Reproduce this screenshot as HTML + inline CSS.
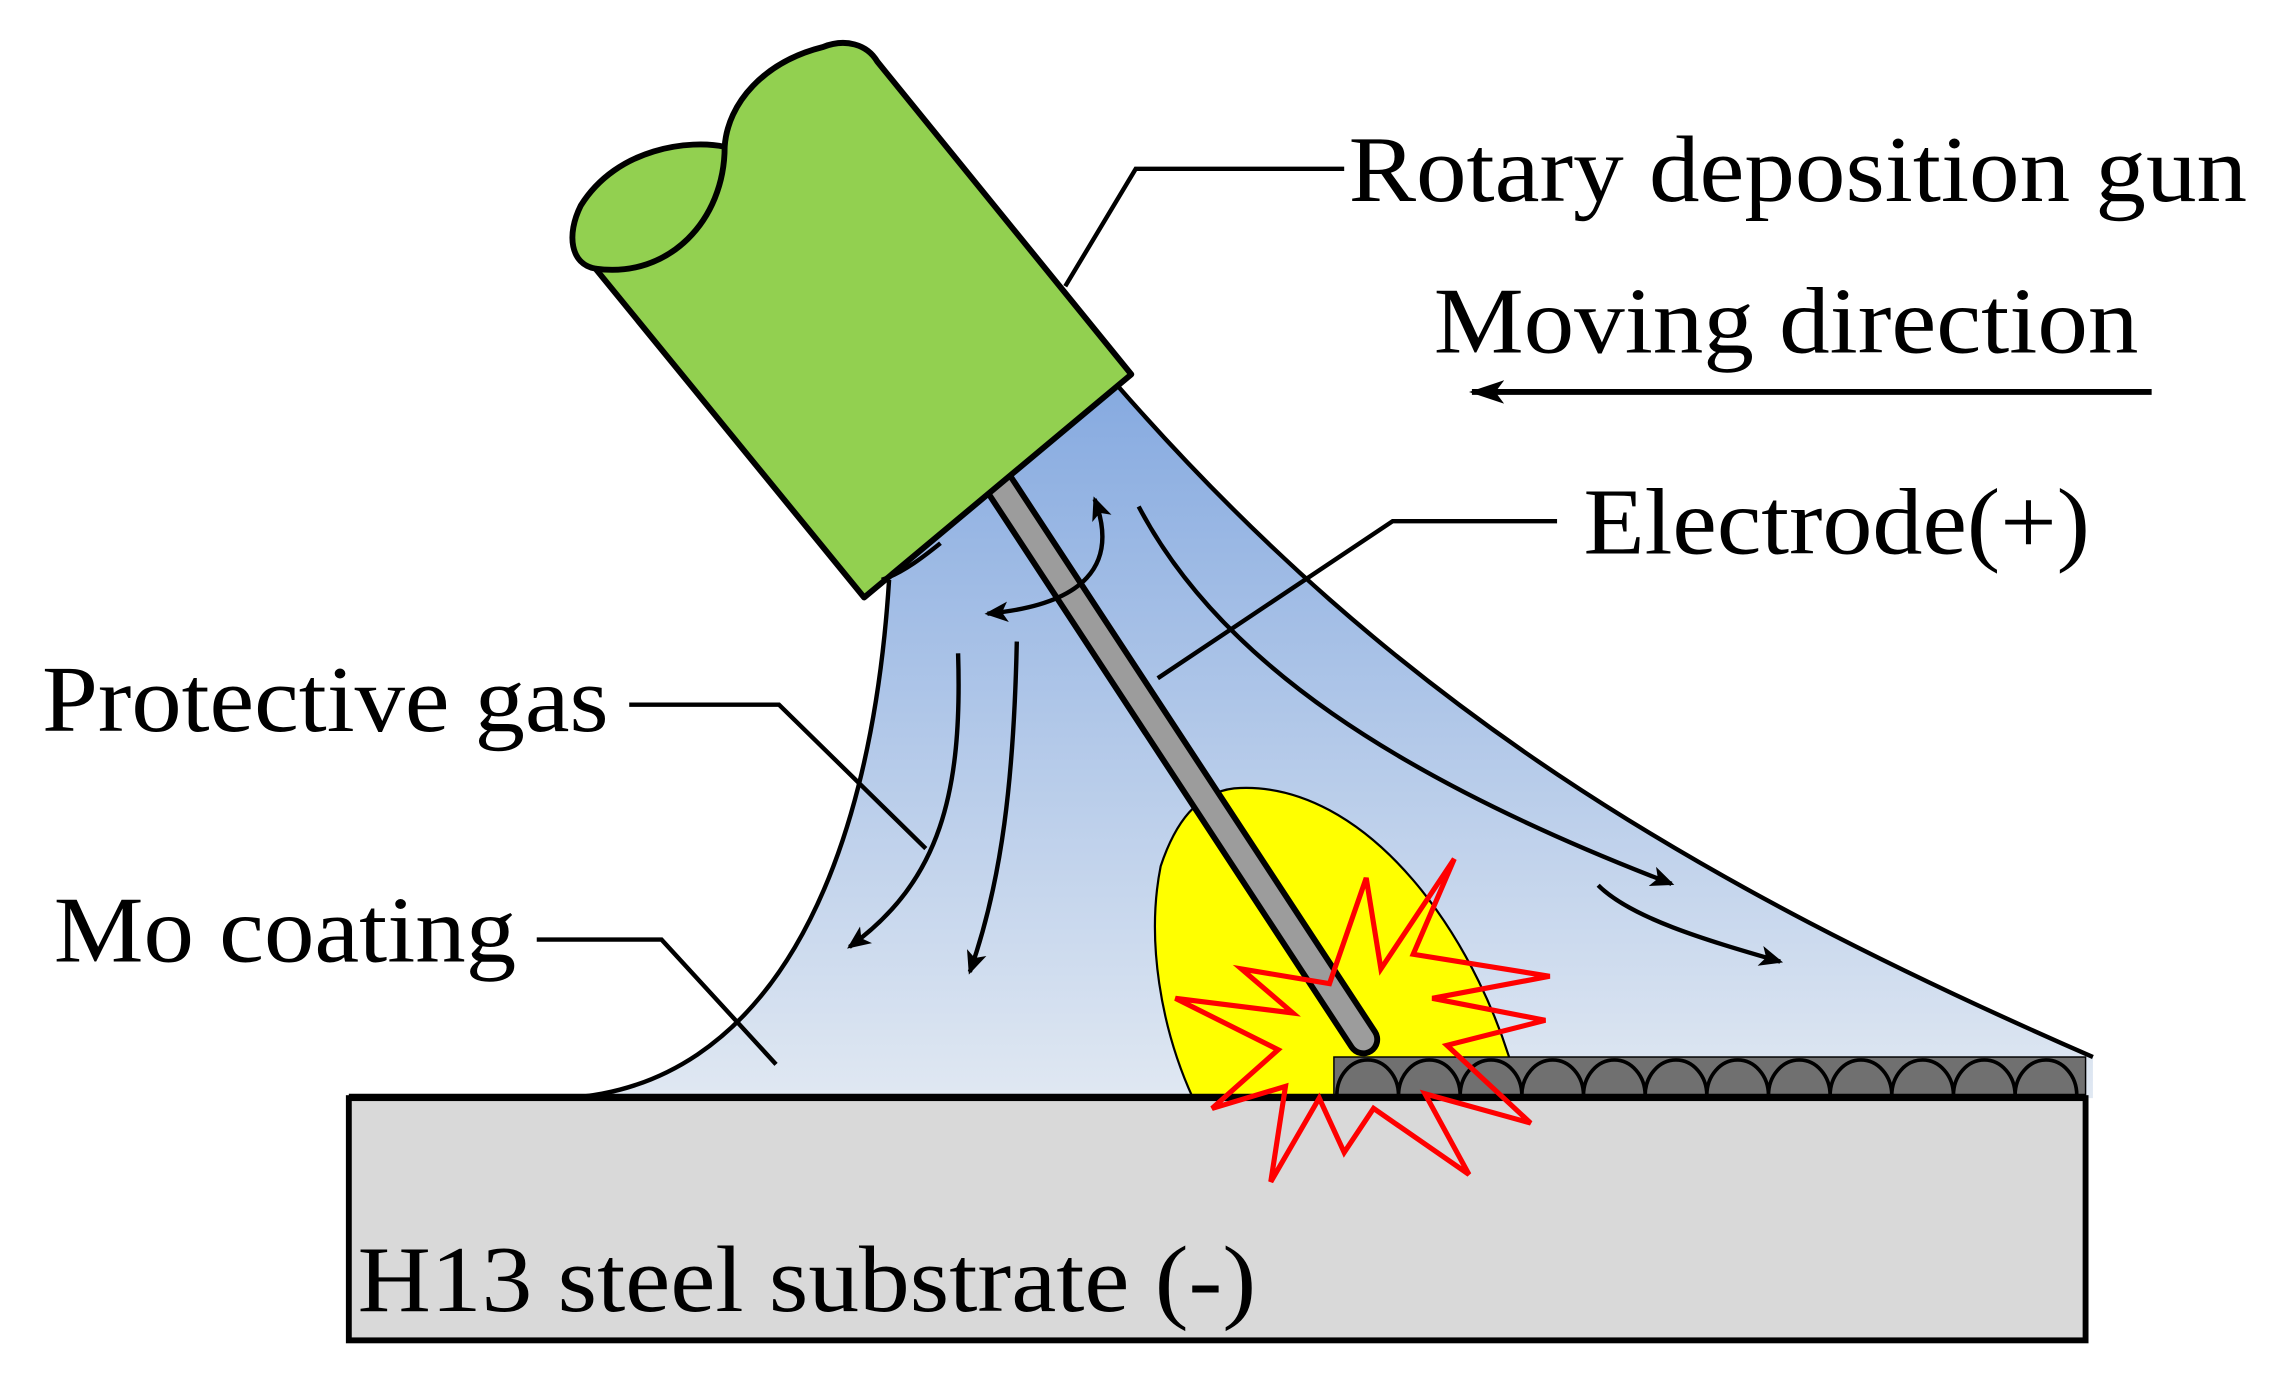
<!DOCTYPE html>
<html><head><meta charset="utf-8"><style>html,body{margin:0;padding:0;background:#fff}svg{display:block}</style></head>
<body>
<svg width="2292" height="1380" viewBox="0 0 1560 940" xmlns="http://www.w3.org/2000/svg">
<defs>
<linearGradient id="g" x1="0" y1="0" x2="0" y2="1">
<stop offset="0" stop-color="#86aae0"/><stop offset="1" stop-color="#e0e8f2"/></linearGradient>
<marker id="b" markerWidth="24" markerHeight="16" refX="22" refY="8" orient="auto" markerUnits="userSpaceOnUse"><path d="M0,0 L24,8 L0,16 L6,8 Z" fill="#000"/></marker>
<marker id="c" markerWidth="16" markerHeight="14" refX="14" refY="7" orient="auto-start-reverse" markerUnits="userSpaceOnUse"><path d="M0,0 L16,7 L0,14 L4,7 Z" fill="#000"/></marker>
<clipPath id="cl"><rect x="0" y="0" width="1560" height="748"/></clipPath>
</defs>
<path d="M605,395 C592,600 520,740 385,748 L1425,748 L1425,720 C1150,600 950,480 760,262 Z" fill="url(#g)"/>
<path d="M605,395 C592,600 520,740 385,748" fill="none" stroke="#000" stroke-width="3"/>
<path d="M760,262 C950,480 1150,600 1425,720" fill="none" stroke="#000" stroke-width="3"/>
<path d="M840,537 C930,530 1010,640 1035,748 L812,748 C790,700 780,640 790,590 C800,560 815,540 840,537 Z" fill="#ffff00" stroke="#000" stroke-width="1.5" clip-path="url(#cl)"/>
<rect x="237" y="748" width="1183" height="165" fill="#d9d9d9" stroke="#000" stroke-width="4"/>
<rect x="908" y="720" width="512" height="26" fill="#707070" stroke="#000" stroke-width="1"/>
<path d="M910,746 A21,24 0 0 1 952,746 A21,24 0 0 1 994,746 A21,24 0 0 1 1036,746 A21,24 0 0 1 1078,746 A21,24 0 0 1 1120,746 A21,24 0 0 1 1162,746 A21,24 0 0 1 1204,746 A21,24 0 0 1 1246,746 A21,24 0 0 1 1288,746 A21,24 0 0 1 1330,746 A21,24 0 0 1 1372,746 A21,24 0 0 1 1414,746" fill="none" stroke="#000" stroke-width="2.5"/>
<line x1="237" y1="747" x2="1420" y2="747" stroke="#000" stroke-width="4"/>
<line x1="680" y1="330" x2="928" y2="708" stroke="#000" stroke-width="23" stroke-linecap="round"/>
<line x1="680" y1="330" x2="928" y2="708" stroke="#9c9c9c" stroke-width="15" stroke-linecap="round"/>
<polygon points="990,585 962,650 1055,665 975,680 1052,695 985,712 1042,765 970,745 1000,800 935,755 915,785 898,748 865,805 875,740 825,755 870,715 800,680 880,690 845,660 905,670 930,598 940,660" fill="none" stroke="#ff0000" stroke-width="3.5"/>
<path d="M405,183 L588,407 L770,255 L597,42 C590,30 575,26 560,32 C520,42 495,70 493,100 C470,95 420,100 395,140 C385,160 388,180 405,183 Z" fill="#92d050" stroke="#000" stroke-width="4" stroke-linejoin="round"/>
<path d="M405,183 C455,190 493,150 493,100" fill="none" stroke="#000" stroke-width="4"/>
<path d="M600,395 C615,390 630,378 640,370" fill="none" stroke="#000" stroke-width="3"/>
<g fill="none" stroke="#000" stroke-width="3">
<path d="M652,445 C655,540 640,600 578,645" marker-end="url(#c)"/>
<path d="M692,437 C690,530 682,600 660,662" marker-end="url(#c)"/>
<path d="M775,345 C830,450 950,530 1138,602" marker-end="url(#c)"/>
<path d="M1088,603 C1110,625 1160,640 1212,655" marker-end="url(#c)"/>
<path d="M745,340 C762,385 738,412 672,418" marker-start="url(#c)" marker-end="url(#c)"/>
<polyline points="725,195 773,115 915,115"/>
<polyline points="788,462 948,355 1060,355"/>
<polyline points="428,480 530,480 630,578"/>
<polyline points="365,640 450,640 528,725"/>
<line x1="1465" y1="267" x2="1002" y2="267" marker-end="url(#b)" stroke-width="4"/>
</g>
<g font-family="'Liberation Serif', serif" font-size="64" fill="#000">
<text x="918" y="137" textLength="612" lengthAdjust="spacingAndGlyphs">Rotary deposition gun</text>
<text x="976" y="240" textLength="480" lengthAdjust="spacingAndGlyphs">Moving direction</text>
<text x="1078" y="377" textLength="345" lengthAdjust="spacingAndGlyphs">Electrode(+)</text>
<text x="28" y="498" textLength="386" lengthAdjust="spacingAndGlyphs">Protective gas</text>
<text x="36" y="655" textLength="315" lengthAdjust="spacingAndGlyphs">Mo coating</text>
<text x="243" y="893" textLength="612" lengthAdjust="spacingAndGlyphs">H13 steel substrate (-)</text>
</g>
</svg>
</body></html>
